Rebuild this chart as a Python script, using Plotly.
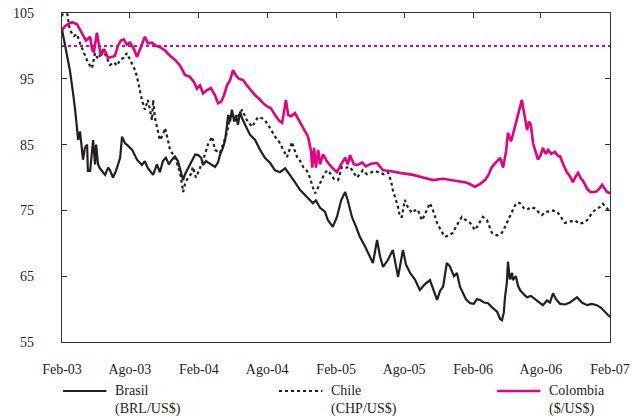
import pandas as pd
import plotly.graph_objects as go

# Days elapsed since 1 Feb 2003 for each reading, and the index value (Feb-03 = ~100)
START = "2003-02-01"

brasil_days = [0, 8, 16, 21, 29, 35, 43, 48, 56, 61, 67, 69, 75, 80, 83, 88, 91, 96, 101, 115,
               123, 128, 136, 144, 149, 155, 160, 168, 173, 187, 200, 213, 221, 229, 243, 253, 261, 269,
               277, 285, 293, 301, 309, 317, 323, 328, 333, 341, 347, 355, 363, 371, 376, 384, 389, 397,
               408, 416, 421, 429, 435, 440, 443, 448, 453, 459, 464, 469, 475, 480, 488, 496, 501, 515,
               528, 541, 555, 568, 581, 595, 608, 621, 635, 648, 661, 669, 677, 688, 701, 709, 722, 733,
               744, 755, 762, 773, 784, 794, 808, 821, 829, 840, 848, 856, 869, 882, 890, 896, 909, 917,
               928, 941, 954, 968, 981, 992, 1000, 1008, 1016, 1026, 1034, 1045, 1053, 1061, 1069, 1077,
               1088, 1098, 1106, 1114, 1125, 1136, 1146, 1160, 1168, 1173, 1178, 1181, 1186, 1189, 1194,
               1200, 1202, 1210, 1216, 1221, 1232, 1240, 1250, 1261, 1272, 1282, 1293, 1301, 1309, 1317,
               1328, 1341, 1354, 1373, 1386, 1400, 1413, 1426, 1437, 1448, 1456, 1461]
brasil_vals = [102.5, 100, 98, 96.3, 93, 90.3, 85.7, 87, 82.7, 84.5, 85, 81, 81, 84, 85.7, 82, 85, 82, 81.4, 80.4,
               81.5, 81.1, 80, 81, 82, 83, 86.2, 85.2, 85, 84.2, 82.7, 81.9, 82.5, 81.4, 80.4, 82, 80.8, 82.5,
               83, 82, 82.7, 83.2, 82.5, 81, 79.6, 80.5, 81.1, 82, 82.7, 83.5, 83.4, 83, 81.9, 82.5, 82.3, 82,
               81.6, 82.3, 83.4, 84.5, 85.7, 88, 89.5, 88.5, 90.3, 88.5, 89.5, 88, 90, 89, 88, 87, 86.5, 85.7,
               84.2, 83, 82.2, 81.1, 80.8, 81.4, 80.4, 79.3, 78.1, 77.3, 76.6, 76.1, 76.5, 75.4, 74.8, 73.5, 72.5, 74,
               76.5, 77.8, 76.5, 74, 72.5, 71, 69.5, 68, 67, 70.5, 68, 66.4, 67.5, 69, 66.5, 64.9, 69, 66.8,
               65.5, 64.5, 62.9, 63.8, 64.4, 62.5, 61.4, 62.8, 63.4, 67, 66.5, 65, 65.5, 63.4, 62.5, 61.5,
               60.9, 60.8, 61.5, 61.4, 61, 60.9, 60.3, 59.6, 58.5, 58.3, 59.5, 61.8, 64, 67.2, 64.5,
               65.5, 64.4, 65, 63.5, 62.9, 62.2, 61.8, 62, 61.5, 61, 60.6, 61.3, 61, 62.4, 61.5,
               60.8, 60.7, 61, 61.8, 61, 60.6, 60.8, 60.6, 60.2, 59.6, 59.2, 58.8]

chile_days = [0, 5, 13, 21, 32, 40, 48, 59, 69, 80, 88, 96, 109, 117, 128, 139, 147, 155, 165, 173,
              181, 187, 195, 200, 208, 213, 221, 229, 240, 243, 248, 253, 261, 269, 275, 283, 288, 301, 315,
              323, 328, 336, 344, 349, 357, 365, 373, 381, 389, 400, 408, 421, 432, 440, 448, 461, 472, 480,
              493, 507, 515, 523, 533, 541, 555, 568, 578, 587, 600, 608, 613, 621, 627, 635, 643, 653, 661,
              669, 675, 683, 688, 699, 707, 714, 725, 736, 746, 757, 768, 778, 786, 794, 802, 813, 821, 834,
              848, 858, 869, 877, 882, 890, 896, 901, 906, 914, 922, 933, 941, 949, 954, 960, 970, 981, 989,
              1000, 1010, 1021, 1032, 1042, 1053, 1066, 1077, 1088, 1101, 1112, 1122, 1133, 1146, 1160,
              1173, 1181, 1189, 1200, 1208, 1216, 1221, 1232, 1240, 1250, 1261, 1269, 1280, 1288, 1296,
              1306, 1320, 1330, 1341, 1354, 1368, 1378, 1389, 1400, 1413, 1424, 1434, 1442, 1450, 1456, 1461]
chile_vals = [104.5, 105.5, 105.2, 102.4, 101.5, 101.8, 100.4, 99, 97.5, 96.6, 98.9, 98, 99.4, 98.5, 97.1, 97.5, 97, 97.9, 98.2, 98.9,
              98, 97.4, 96.3, 95.3, 93, 91.8, 90.3, 91.8, 88.7, 91.8, 89, 87.7, 85.7, 86.5, 87.5, 85.5, 84.2, 83.1, 80.7,
              77.8, 79, 80, 80.5, 81.6, 80, 81, 82.2, 83.5, 85, 86.2, 84.2, 83.7, 85.5, 86.8, 89.2, 88.7, 89.5, 90.3,
              88.7, 87.7, 88.5, 89.2, 89, 88.7, 87.5, 86.2, 85.5, 84.6, 83.1, 84.5, 85.4, 84, 83.1, 82.5, 81.6, 81, 80,
              78.5, 77.6, 78.5, 79.2, 80.5, 81.1, 80.7, 79.8, 79.6, 81.6, 81.5, 81.6, 80.8, 80, 80.5, 81.1, 80.5, 80.7, 81,
              80.7, 80.5, 80.8, 79.5, 78.1, 76.5, 75.5, 74, 74, 76.6, 75.5, 74.6, 75, 75.1, 74.2, 73.5, 74.8, 76.1, 75,
              73.1, 72, 71, 71.2, 71.6, 72.8, 74, 73.5, 73.1, 72, 73, 74, 73.5, 71.6, 71.2,
              71.6, 72.5, 73.5, 74.8, 75.8, 76.2, 76.1, 75.3, 75.1, 75.5, 75.3, 74.8, 74.3, 74.8, 74.8,
              75, 74.8, 74, 73.1, 73.3, 73.5, 73, 73.1, 73.5, 74.6, 75.2, 75.5, 76, 75.5, 75.1, 74.8]

colombia_days = [0, 8, 16, 27, 40, 48, 56, 64, 75, 80, 85, 93, 99, 104, 112, 123, 133, 141, 149, 157,
                 165, 173, 181, 192, 200, 211, 221, 229, 240, 251, 261, 275, 288, 301, 315, 328, 341, 352,
                 360, 368, 376, 387, 397, 408, 416, 424, 432, 440, 448, 456, 464, 472, 483, 493, 504, 515,
                 525, 536, 547, 557, 568, 579, 587, 592, 597, 603, 611, 621, 635, 645, 656, 664, 667, 672,
                 677, 683, 688, 696, 707, 720, 733, 744, 755, 762, 768, 778, 789, 800, 810, 824, 840, 856,
                 874, 901, 936, 962, 989, 1016, 1040, 1061, 1080, 1101, 1114, 1128, 1138, 1146, 1157, 1168,
                 1176, 1184, 1189, 1197, 1202, 1208, 1213, 1218, 1226, 1234, 1240, 1245, 1250, 1256, 1264,
                 1269, 1277, 1282, 1290, 1296, 1304, 1314, 1322, 1328, 1338, 1346, 1354, 1362, 1370, 1376,
                 1384, 1389, 1400, 1408, 1418, 1426, 1434, 1440, 1448, 1453, 1461]
colombia_vals = [102.4, 103, 103.3, 103.6, 103.3, 102.5, 101.5, 100.8, 101.4, 99.5, 99, 102, 100, 98.5, 99.5, 98.2, 98.3, 98.5, 100, 100.8,
                 101, 100.2, 100.5, 99.5, 98.3, 100, 101.4, 100.4, 100.5, 100, 99.8, 99.3, 98.5, 97.9, 97, 95.6, 95.3, 94.5,
                 93.5, 94, 92.8, 93.3, 93.6, 92.5, 91.3, 91.5, 92.5, 94, 94.8, 96.3, 95.5, 95, 94.8, 94, 93.2, 92.5,
                 92, 91.3, 90.8, 90.5, 89.5, 88.6, 88.3, 90, 91.8, 89.5, 89.3, 89.8, 88.4, 87.4, 86.2, 84, 81.5, 84.5,
                 81.5, 84.2, 82, 83.5, 82.4, 81.5, 80.8, 82, 83, 82, 83.4, 82, 81.9, 82.3, 81.7, 82.1, 82.2, 81.1,
                 81, 80.7, 80.4, 80, 79.6, 79.8, 79.6, 79.4, 79.2, 78.6, 79, 79.6, 80.5, 81.6, 82.3, 83,
                 81.5, 84, 86.8, 85.5, 86.5, 88, 89.2, 90, 91.8, 89.5, 87.2, 88.5, 88, 85.2, 83.5,
                 82.7, 83.5, 84.5, 83.6, 84.2, 83.6, 83.9, 83.3, 83.2, 81.8, 80.8, 80.2, 79.3, 80.2, 80.7,
                 79.8, 79.5, 78.3, 77.8, 77.8, 77.9, 78.4, 78.9, 78.2, 77.8, 77.6]

parity_level = 100  # reference level of the index

tick_dates = ["2003-02-01", "2003-08-01", "2004-02-01", "2004-08-01", "2005-02-01",
              "2005-08-01", "2006-02-01", "2006-08-01", "2007-02-01"]
tick_labels = ["Feb-03", "Ago-03", "Feb-04", "Ago-04", "Feb-05", "Ago-05", "Feb-06", "Ago-06", "Feb-07"]

series_names = ["Brasil<br>(BRL/US$)", "Chile<br>(CHP/US$)", "Colombia<br>($/US$)"]


def to_dates(days):
    return pd.Timestamp(START) + pd.to_timedelta(days, unit="D")


PINK = "#E5007E"
INK = "#231F20"
FONT = "Liberation Serif, DejaVu Serif, serif"

styles = [dict(color=INK, width=2.2),
          dict(color=INK, width=2.2, dash="dot"),
          dict(color=PINK, width=2.6)]

fig = go.Figure()

for days, vals, name, style in zip([brasil_days, chile_days, colombia_days],
                                   [brasil_vals, chile_vals, colombia_vals],
                                   series_names, styles):
    fig.add_trace(go.Scatter(x=to_dates(days), y=vals, mode="lines",
                             name=name, line=style, showlegend=False))

# Parity reference line, drawn on the top-side axis so its ticks are rendered
fig.add_trace(go.Scatter(x=[tick_dates[0], tick_dates[-1]], y=[parity_level, parity_level],
                         mode="lines", xaxis="x2", showlegend=False, hoverinfo="skip",
                         line=dict(color=PINK, width=2, dash="dot")))

# Key below the plot: a short sample of each line style followed by its label
key_left = [0.002, 0.396, 0.794]   # start of each sample line (paper fraction)
key_len = 0.079
key_y = -0.149
for left, name, style in zip(key_left, series_names, styles):
    fig.add_shape(type="line", xref="paper", yref="paper",
                  x0=left, x1=left + key_len, y0=key_y, y1=key_y, line=style)
    fig.add_annotation(xref="paper", yref="paper", x=left + key_len + 0.012, y=key_y,
                       xanchor="left", yanchor="top", yshift=10, align="left",
                       text=name, showarrow=False,
                       font=dict(family=FONT, size=14, color=INK))

x_range = [tick_dates[0], tick_dates[-1]]

fig.update_layout(
    width=634, height=420,
    margin=dict(l=62, r=24, t=13, b=78),
    paper_bgcolor="white", plot_bgcolor="white",
    font=dict(family=FONT, size=14, color=INK),
    showlegend=False,
    xaxis=dict(
        type="date", range=x_range, automargin=False,
        tickvals=tick_dates, ticktext=tick_labels,
        ticks="", showgrid=False, zeroline=False,
        showline=True, linecolor="#333333", linewidth=1.3, mirror=True,
        ticklabelstandoff=14,
    ),
    xaxis2=dict(
        type="date", range=x_range, overlaying="x", side="top", automargin=False,
        tickvals=tick_dates, showticklabels=False,
        ticks="inside", ticklen=5, tickwidth=1.2, tickcolor="#333333",
        showgrid=False, zeroline=False, showline=False,
    ),
    yaxis=dict(
        range=[55, 105], tickvals=[55, 65, 75, 85, 95, 105], automargin=False,
        ticks="inside", ticklen=5, tickwidth=1.2, tickcolor="#333333",
        showgrid=False, zeroline=False,
        showline=True, linecolor="#333333", linewidth=1.3, mirror="ticks",
        ticklabelstandoff=24,
    ),
)

fig.write_html("out.html")
